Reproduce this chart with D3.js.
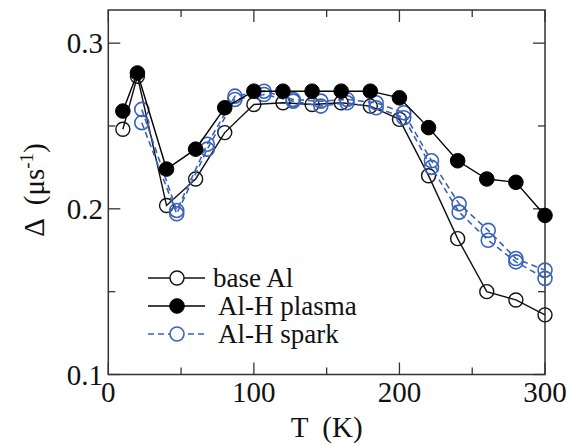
<!DOCTYPE html>
<html><head><meta charset="utf-8">
<script src="https://cdn.jsdelivr.net/npm/d3@7"></script>
<style>body{margin:0;background:#fff}svg{display:block}</style>
</head><body>
<script>
const baseT = [10,20,40,60,80,100,120,140,160,180,200,220,240,260,280,300];
const baseV = [0.248,0.280,0.202,0.218,0.246,0.263,0.264,0.263,0.264,0.262,0.254,0.220,0.182,0.150,0.145,0.136];
const plasmaT = [10,20,40,60,80,100,120,140,160,180,200,220,240,260,280,300];
const plasmaV = [0.259,0.282,0.224,0.236,0.261,0.271,0.271,0.271,0.271,0.271,0.267,0.249,0.229,0.218,0.216,0.196];
const sparkT = [23,47,68,87,107,127,146,164,184,203,222,241,261,280,300];
const sparkA = [0.260,0.199,0.239,0.268,0.271,0.266,0.265,0.266,0.264,0.258,0.229,0.203,0.187,0.170,0.163];
const sparkB = [0.252,0.197,0.236,0.266,0.269,0.265,0.262,0.264,0.261,0.255,0.225,0.198,0.181,0.168,0.158];
const xMajor = [0,100,200,300], xMinor = [50,150,250];
const yMajor = [0.1,0.2,0.3], yMinor = [0.15,0.25];
const legendItems = ["base Al","Al-H plasma","Al-H spark"];

const W=575,H=446, L=108.3,R=545,T=10,B=374.5;
const blue="#3a62b8", axisCol="#333";
const FONT='"Liberation Serif","Times New Roman",serif';
const svg=d3.select("body").append("svg").attr("width",W).attr("height",H);
const x=d3.scaleLinear().domain([0,300]).range([L,R]);
const y=d3.scaleLinear().domain([0.1,0.32]).range([B,T]);

// frame
svg.append("rect").attr("x",L).attr("y",T).attr("width",R-L).attr("height",B-T)
  .attr("fill","none").attr("stroke",axisCol).attr("stroke-width",1.5);
const tk=svg.append("g").attr("stroke",axisCol).attr("stroke-width",1.3);
function xt(v,len){tk.append("line").attr("x1",x(v)).attr("x2",x(v)).attr("y1",B).attr("y2",B-len);
  tk.append("line").attr("x1",x(v)).attr("x2",x(v)).attr("y1",T).attr("y2",T+len);}
function yt(v,len){tk.append("line").attr("y1",y(v)).attr("y2",y(v)).attr("x1",L).attr("x2",L+len);
  tk.append("line").attr("y1",y(v)).attr("y2",y(v)).attr("x1",R).attr("x2",R-len);}
xMajor.forEach(v=>xt(v,12)); xMinor.forEach(v=>xt(v,7));
yMajor.forEach(v=>yt(v,12)); yMinor.forEach(v=>yt(v,7));

const lab=svg.append("g").style("font-family",FONT).attr("font-size",29).attr("fill","#111");
xMajor.forEach(v=>lab.append("text").style("font-family",FONT).attr("x",x(v)).attr("y",402).attr("text-anchor","middle").text(v));
yMajor.forEach(v=>lab.append("text").style("font-family",FONT).attr("x",103).attr("y",y(v)).attr("dy","0.35em").attr("text-anchor","end").text(v.toFixed(1)));
lab.append("text").style("font-family",FONT).attr("x",(L+R)/2).attr("y",437).attr("text-anchor","middle").style("white-space","pre").text("T  (K)");
const yl=lab.append("text").style("font-family",FONT).attr("transform","translate(44,190) rotate(-90)").attr("text-anchor","middle").style("white-space","pre");
yl.append("tspan").text("Δ  (μs");
yl.append("tspan").attr("font-size",19).attr("dy",-11).text("-1");
yl.append("tspan").attr("dy",11).text(")");

const line=d3.line();
function series(X,Y,opt){
  const pts=X.map((t,i)=>[x(t),y(Y[i])]);
  svg.append("path").attr("d",line(pts)).attr("fill","none").attr("stroke",opt.color)
    .attr("stroke-width",opt.lw).attr("stroke-dasharray",opt.dash||null);
  svg.append("g").selectAll("circle").data(pts).join("circle")
    .attr("cx",d=>d[0]).attr("cy",d=>d[1]).attr("r",opt.r)
    .attr("fill",opt.fill).attr("stroke",opt.color).attr("stroke-width",opt.sw);
}
const styles=[
 {color:"#111",fill:"none",r:7,sw:1.4,lw:1.4},
 {color:"#000",fill:"#000",r:7.3,sw:1,lw:1.4},
 {color:blue,fill:"none",r:7,sw:1.6,lw:1.6,dash:"6,4"}];
series(baseT,baseV,styles[0]);
series(sparkT,sparkB,styles[2]);
series(sparkT,sparkA,styles[2]);
series(plasmaT,plasmaV,styles[1]);

// legend
const lg=svg.append("g");
legendItems.forEach((name,i)=>{
  const cy=278+i*28, s=styles[i];
  lg.append("line").attr("x1",148).attr("x2",205).attr("y1",cy).attr("y2",cy)
    .attr("stroke",s.color).attr("stroke-width",s.lw).attr("stroke-dasharray",s.dash||null);
  lg.append("circle").attr("cx",177).attr("cy",cy).attr("r",s.r).attr("fill",s.fill==="none"?"#fff":s.fill)
    .attr("stroke",s.color).attr("stroke-width",s.sw);
  lg.append("text").style("font-family",FONT).attr("x",i===0?213:218).attr("y",cy+9).attr("font-size",27)
    .attr("fill","#111").text(name);
});
</script>
</body></html>
